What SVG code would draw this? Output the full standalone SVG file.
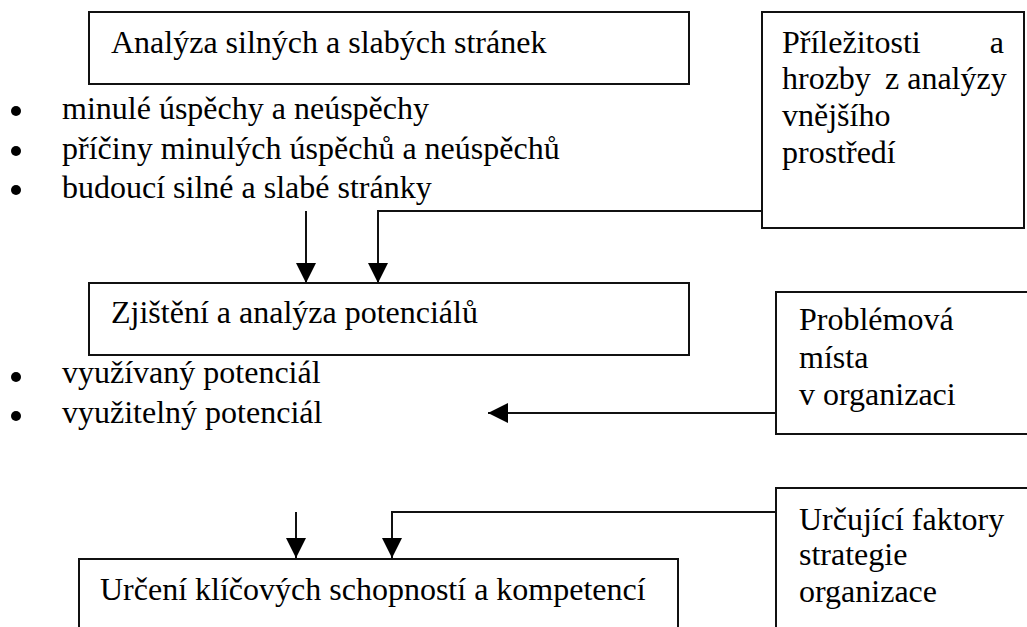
<svg xmlns="http://www.w3.org/2000/svg" width="1027" height="627" viewBox="0 0 1027 627" font-family="'Liberation Serif', 'Times New Roman', serif" font-size="32">
<style>
.box{fill:#fff;stroke:#111;stroke-width:2}
.t{font-family:'Liberation Serif','Times New Roman',serif;font-size:32px;fill:#000}
.ln{fill:none;stroke:#111;stroke-width:2}
.dot{fill:#000}
</style>
<defs>
<marker id="ah" viewBox="0 0 20 20" refX="20" refY="10" markerWidth="20" markerHeight="20" markerUnits="userSpaceOnUse" orient="auto">
<path d="M0,0 L20,10 L0,20 Z" fill="#000"/>
</marker>
</defs>
<rect width="1027" height="627" fill="#fff"/>
<g id="connectors">
<line class="ln" x1="306" y1="211" x2="306" y2="283" marker-end="url(#ah)"/>
<polyline class="ln" points="762,211 378,211 378,283" marker-end="url(#ah)"/>
<line class="ln" x1="776" y1="413" x2="488" y2="413" marker-end="url(#ah)"/>
<line class="ln" x1="296" y1="512" x2="296" y2="558" marker-end="url(#ah)"/>
<polyline class="ln" points="776,512 392,512 392,558" marker-end="url(#ah)"/>
</g>
<g id="n_silne">
<rect class="box" x="89" y="12" width="600" height="72"/>
<text class="t" x="111" y="53">Analýza silných a slabých stránek</text>
</g>
<g id="n_list1">
<circle class="dot" cx="16" cy="111" r="5"/>
<circle class="dot" cx="16" cy="151" r="5"/>
<circle class="dot" cx="16" cy="190" r="5"/>
<text class="t" x="62" y="119">minulé úspěchy a neúspěchy</text>
<text class="t" x="62" y="159">příčiny minulých úspěchů a neúspěchů</text>
<text class="t" x="62" y="198">budoucí silné a slabé stránky</text>
</g>
<g id="n_prilezitosti">
<rect class="box" x="762" y="12" width="262" height="216"/>
<text class="t" x="782" y="53">Příležitosti</text>
<text class="t" x="1004" y="53" text-anchor="end">a</text>
<text class="t" x="782" y="89">hrozby</text>
<text class="t" x="885" y="89">z analýzy</text>
<text class="t" x="782" y="126">vnějšího</text>
<text class="t" x="782" y="163">prostředí</text>
</g>
<g id="n_potencialy">
<rect class="box" x="89" y="283" width="600" height="72"/>
<text class="t" x="111" y="323">Zjištění a analýza potenciálů</text>
</g>
<g id="n_list2">
<circle class="dot" cx="16" cy="377" r="5"/>
<circle class="dot" cx="16" cy="416" r="5"/>
<text class="t" x="62" y="383">využívaný potenciál</text>
<text class="t" x="62" y="423">využitelný potenciál</text>
</g>
<g id="n_problemova">
<rect class="box" x="776" y="292" width="262" height="142"/>
<text class="t" x="799" y="330">Problémová</text>
<text class="t" x="799" y="368">místa</text>
<text class="t" x="799" y="405">v organizaci</text>
</g>
<g id="n_faktory">
<rect class="box" x="776" y="488" width="262" height="160"/>
<text class="t" x="799" y="530">Určující faktory</text>
<text class="t" x="799" y="565">strategie</text>
<text class="t" x="799" y="602">organizace</text>
</g>
<g id="n_klicove">
<rect class="box" x="79" y="559" width="599" height="90"/>
<text class="t" x="100" y="600">Určení klíčových schopností a kompetencí</text>
</g>
</svg>
